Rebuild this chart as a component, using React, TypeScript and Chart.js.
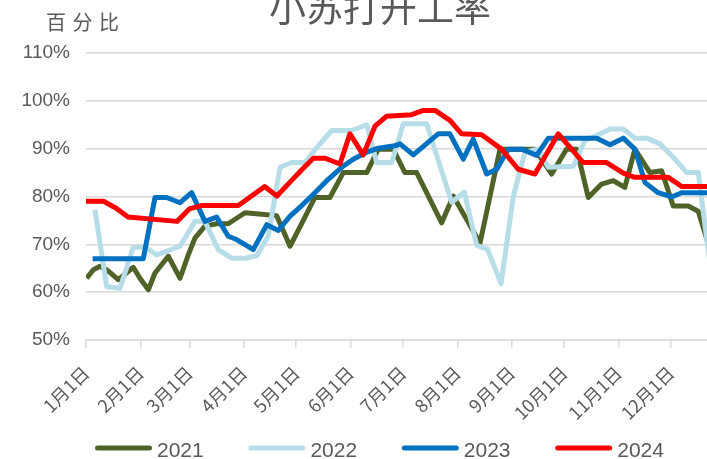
import React, { useEffect, useRef } from "react";
import { Chart, registerables } from "chart.js";

Chart.register(...registerables);

// ---- data (x = day of year, 0 = Jan 1) ----
const monthStarts = [0, 31, 59, 90, 120, 151, 181, 212, 243, 273, 304, 334];
const monthLabels = ["1月1日", "2月1日", "3月1日", "4月1日", "5月1日", "6月1日", "7月1日", "8月1日", "9月1日", "10月1日", "11月1日", "12月1日"];
const seriesNames = ["2021", "2022", "2023", "2024"];
const seriesColors = ["#4F6228", "#B7DEE8", "#0070C0", "#FF0000"];

const days2021 = [0.4, 4.2, 8, 11.8, 18.4, 27, 30.8, 35.6, 39.4, 47, 53.7, 58.4, 62.2, 67.9, 74.6, 81.2, 90.8, 100.3, 108.9, 116.5, 123.5, 130.7, 139.3, 146.9, 160.3, 166.9, 175.4, 182.1, 188.8, 203.1, 209.7, 225, 236.4, 256.3, 265.9, 274.4, 280.2, 286.8, 294.4, 301.1, 307.7, 313.4, 322, 328.7, 335.3, 343.9, 349.6, 356.6];
const values2021 = [62.9, 64.7, 65.4, 64.7, 62.6, 65.2, 62.9, 60.5, 64, 67.5, 62.9, 67.8, 71.3, 73.8, 74.3, 74.3, 76.6, 76.3, 76, 69.6, 74.6, 79.8, 79.8, 85, 85, 89.9, 89.9, 85, 85, 74.5, 80.1, 70.3, 89.9, 89.9, 84.7, 89.9, 89.9, 79.8, 82.6, 83.3, 81.9, 89.9, 85, 85.4, 78, 78, 76.9, 68.6];

const days2022 = [5.1, 11.8, 19.4, 27, 33.7, 40.4, 53.7, 62.2, 67.9, 75.5, 83.2, 90.8, 97.5, 104.1, 110.8, 117.4, 125, 132.6, 140.3, 151.7, 160.3, 166, 174.5, 181.2, 194.5, 208.8, 216, 223.1, 229.2, 237, 244, 250.6, 258.2, 264, 278.2, 284.9, 292.5, 299.2, 306.8, 313.4, 320.1, 327.7, 335.3, 343, 349.6, 356.6];
const values2022 = [77.2, 61.2, 60.8, 69.4, 69.4, 67.8, 69.6, 74.8, 74.8, 68.9, 67.1, 67.1, 67.6, 71.7, 86.1, 87.1, 87.1, 90.6, 93.8, 93.8, 95, 87.1, 87.1, 95.2, 95.2, 78.8, 80.9, 69.8, 69, 61.8, 80, 89.3, 89.9, 86.1, 86.3, 91.7, 92.9, 94.1, 94.1, 92.2, 92.2, 91, 88.2, 85, 85, 65];

const days2023 = [3.8, 32.7, 39.4, 46.1, 53.7, 60.3, 67.9, 74.6, 81.2, 86, 95.5, 103.2, 109.8, 116.5, 123.2, 130.7, 138.3, 146, 152.6, 159.3, 166.9, 176.4, 179.3, 186.9, 201.1, 207.8, 215.4, 221.1, 228.8, 234.5, 241.1, 248.8, 257.3, 264, 291.6, 299.2, 306.8, 313.4, 319.2, 326.7, 334.4, 340.1, 360];
const values2023 = [67, 67, 79.8, 79.8, 78.7, 80.8, 74.8, 75.7, 71.7, 71, 68.9, 74.1, 72.9, 75.9, 78.1, 80.8, 83.6, 86.1, 87.8, 89.1, 90.1, 90.6, 91, 88.7, 93.1, 93.1, 87.8, 92, 84.7, 85.7, 89.9, 89.9, 88.6, 92.2, 92.2, 90.8, 92.2, 89.9, 82.9, 80.8, 79.9, 80.8, 80.8];

const days2024 = [0, 10, 17, 24, 52, 59, 66, 87, 102, 109, 116.5, 123.2, 129.8, 136.5, 145, 150.7, 158.3, 165, 171.7, 186, 192.6, 199.3, 207.8, 214.5, 225.9, 237.3, 246.8, 256.3, 269.7, 283.9, 297.3, 306.8, 313.4, 332.5, 340.1, 360];
const values2024 = [79, 79, 77.6, 75.7, 74.8, 77.4, 78.1, 78.1, 82.1, 80.1, 83, 85.6, 88, 88, 86.8, 93.1, 88.7, 94.7, 96.8, 97.1, 98, 98, 95.9, 93.1, 92.9, 89.9, 85.7, 84.7, 93.1, 87.1, 87.1, 84.9, 84, 84, 82.1, 82.1];

const allDays = [days2021, days2022, days2023, days2024];
const allValues = [values2021, values2022, values2023, values2024];

const CANVAS_W = 760;
const CANVAS_H = 469;
const TOP_SHIFT = 10;
const GRAY = "#595959";

const overlayPlugin = {
  id: "overlay",
  afterDraw(chart: any) {
    const ctx = chart.ctx;
    ctx.save();
    // title (clipped at top like the reference)
    ctx.fillStyle = GRAY;
    ctx.font = "37px 'Noto Sans CJK SC'";
    ctx.textAlign = "center";
    ctx.textBaseline = "middle";
    ctx.fillText("小苏打开工率", 380, 18);
    // y axis unit label
    ctx.font = "20px 'Noto Sans CJK SC'";
    ctx.textAlign = "left";
    const unit = "百分比";
    for (let i = 0; i < unit.length; i++) {
      ctx.fillText(unit[i], 46 + i * 26.5, 32.5);
    }
    // legend
    ctx.font = "21px 'Liberation Sans', Arial, sans-serif";
    ctx.textBaseline = "alphabetic";
    for (let i = 0; i < seriesNames.length; i++) {
      const x0 = 95 + i * 153.4;
      ctx.strokeStyle = seriesColors[i];
      ctx.lineWidth = 5;
      ctx.lineCap = "round";
      ctx.beginPath();
      ctx.moveTo(x0 + 2.5, 458);
      ctx.lineTo(x0 + 54.5, 458);
      ctx.stroke();
      ctx.fillStyle = GRAY;
      ctx.fillText(seriesNames[i], x0 + 62, 467);
    }
    ctx.restore();
  },
};

export default function App() {
  const ref = useRef<HTMLCanvasElement | null>(null);

  useEffect(() => {
    document.body.style.overflow = "hidden";
    if (!ref.current) return;
    const datasets = seriesNames.map((name, i) => ({
      label: name,
      data: allDays[i].map((d, j) => ({ x: d, y: allValues[i][j] })),
      borderColor: seriesColors[i],
      backgroundColor: seriesColors[i],
      borderWidth: 5,
      pointRadius: 0,
      pointHoverRadius: 0,
      tension: 0,
      borderJoinStyle: "round" as const,
      fill: false,
      order: seriesNames.length - i,
    }));
    const chart = new Chart(ref.current, {
      type: "line",
      data: { datasets },
      plugins: [overlayPlugin],
      options: {
        responsive: false,
        animation: false,
        devicePixelRatio: 1,
        layout: { padding: { left: 0, right: 36, top: 63, bottom: 0 } },
        plugins: {
          legend: { display: false },
          tooltip: { enabled: false },
          title: { display: false },
        },
        scales: {
          x: {
            type: "linear",
            min: 0,
            max: 364.3,
            afterBuildTicks: (s: any) => {
              s.ticks = monthStarts.map((v) => ({ value: v }));
            },
            afterFit: (s: any) => {
              s.height = 119;
            },
            grid: {
              drawOnChartArea: false,
              drawTicks: true,
              tickLength: 8,
              color: "#D9D9D9",
              lineWidth: 1.5,
            },
            border: { display: true, color: "#D9D9D9", width: 1.5 },
            ticks: {
              autoSkip: false,
              maxRotation: 45,
              minRotation: 45,
              padding: 14,
              color: GRAY,
              font: { family: "'Noto Sans CJK SC'", size: 18 },
              callback: (v: any) => {
                const i = monthStarts.indexOf(Number(v));
                return i >= 0 ? monthLabels[i] : "";
              },
            },
          },
          y: {
            min: 50,
            max: 110,
            afterFit: (s: any) => {
              s.width = 86;
            },
            grid: { color: "#D9D9D9", lineWidth: 1.5, drawTicks: false },
            border: { display: false },
            ticks: {
              stepSize: 10,
              padding: 16,
              color: GRAY,
              font: { family: "'Liberation Sans', Arial, sans-serif", size: 19 },
              callback: (v: any) => v + "%",
            },
          },
        },
      },
    });
    return () => chart.destroy();
  }, []);

  return (
    <div style={{ position: "fixed", left: 0, top: 0, width: 707, height: 459, overflow: "hidden", background: "#fff" }}>
      <div style={{ position: "absolute", left: 0, top: -TOP_SHIFT, width: CANVAS_W, height: CANVAS_H }}>
        <canvas ref={ref} width={CANVAS_W} height={CANVAS_H} style={{ width: CANVAS_W, height: CANVAS_H, display: "block" }} />
      </div>
    </div>
  );
}
